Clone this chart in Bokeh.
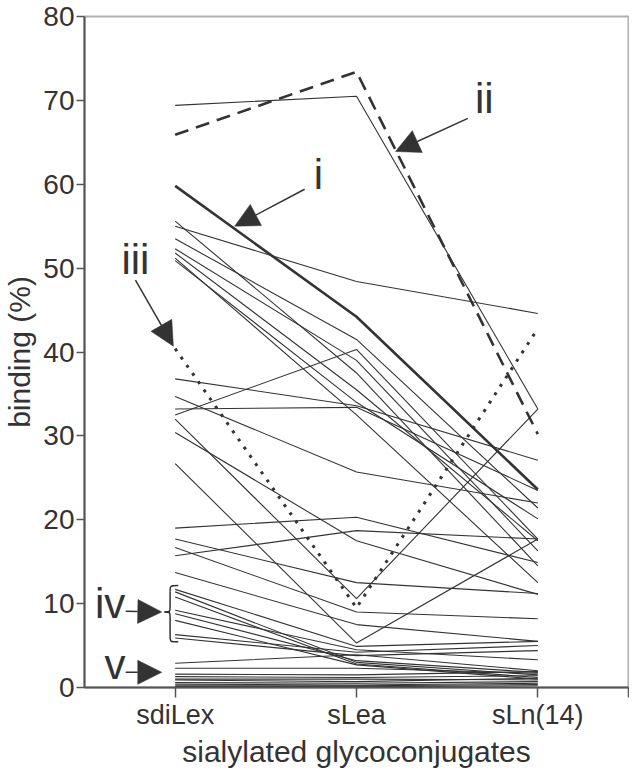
from bokeh.plotting import figure
from bokeh.models import Range1d, FixedTicker, Arrow, NormalHead, Label
from bokeh.embed import file_html
from bokeh.resources import INLINE

# ---------------- data ----------------
categories = ["sdiLex", "sLea", "sLn(14)"]
x_pos = [0, 1, 2]

# thin lines: binding (%) for each glycoconjugate
sdiLex = [69.4, 55.0, 55.6, 53.5, 52.3, 51.8, 51.2, 50.9, 36.8, 33.2, 32.5, 32.0,
          34.7, 30.4, 26.7, 19.0, 15.7, 17.7, 16.7, 13.7,
          11.7, 11.4, 10.8, 9.2, 8.8, 8.0, 6.3, 5.9,
          2.9, 2.3, 1.6, 1.3, 1.0, 0.9, 0.6, 0.4, 0.2, 0.1]
sLea = [70.5, 48.4, 37.5, 41.5, 39.0, 35.5, 32.5, 34.0, 33.6, 33.4, 40.3, 10.6,
        25.7, 17.5, 5.3, 20.3, 18.7, 12.5, 9.0, 7.5,
        4.9, 3.0, 2.8, 4.5, 3.2, 2.7, 4.2, 3.8,
        3.9, 2.3, 1.5, 1.2, 1.0, 0.7, 0.5, 0.3, 0.2, 0.1]
sLn = [33.2, 44.6, 14.5, 21.4, 16.3, 17.5, 12.5, 20.1, 27.1, 23.5, 17.7, 33.2,
       22.0, 11.1, 17.7, 14.9, 17.7, 11.2, 8.2, 5.5,
       5.5, 1.5, 1.2, 3.3, 1.8, 1.0, 5.0, 4.4,
       2.0, 1.7, 1.9, 1.4, 0.9, 1.1, 0.7, 0.5, 0.35, 0.2]

# highlighted sera
line_i = [59.8, 44.2, 23.6]     # thick
line_ii = [65.9, 73.4, 30.2]    # dashed
line_iii = [40.4, 9.5, 42.8]    # dotted

y_ticks = [0, 10, 20, 30, 40, 50, 60, 70, 80]

# annotation layout (data coordinates): label, text x, text y, arrow x0, y0, x1, y1
ann_labels = ["i", "ii", "iii", "iv", "v"]
ann_tx = [0.79, 1.705, -0.219, -0.359, -0.332]
ann_ty = [61.2, 70.2, 51.0, 10.0, 2.7]
arr_x0 = [0.714, 1.614, -0.219, -0.273, -0.273]
arr_y0 = [59.4, 67.85, 48.56, 9.09, 1.81]
arr_x1 = [0.328, 1.215, -0.010, -0.074, -0.074]
arr_y1 = [55.0, 63.9, 40.7, 9.01, 1.81]
brace_group = sdiLex[20:28]

INK = "#333333"
FONT = "Liberation Sans"

p = figure(width=629, height=770, output_backend="svg", toolbar_location=None,
           x_range=Range1d(-0.5, 2.5), y_range=Range1d(0, 80),
           min_border_left=77, min_border_right=1, min_border_top=16,
           min_border_bottom=80)
p.grid.visible = False
p.background_fill_color = "white"
p.border_fill_color = "white"
p.outline_line_color = "#b0b0b0"
p.outline_line_width = 2

# lines
n = len(sdiLex)
xs = [x_pos] * n
ys = [[a, b, c] for a, b, c in zip(sdiLex, sLea, sLn)]
p.multi_line(xs, ys, line_color=INK, line_width=1.1)
p.line(x_pos, line_i, line_color=INK, line_width=2.6)
p.line(x_pos, line_ii, line_color=INK, line_width=2.6, line_dash="14 8")
p.line(x_pos, line_iii, line_color=INK, line_width=3, line_dash="3 7")

# annotations
for lab, tx, ty, x0, y0, x1, y1 in zip(ann_labels, ann_tx, ann_ty, arr_x0, arr_y0, arr_x1, arr_y1):
    p.add_layout(Label(x=tx, y=ty, text=lab, text_align="center", text_baseline="alphabetic",
                       text_font=FONT, text_font_size="42px", text_color=INK))
    p.add_layout(Arrow(x_start=x0, y_start=y0, x_end=x1, y_end=y1,
                       line_color=INK, line_width=1.5,
                       end=NormalHead(size=24, fill_color=INK, line_color=INK, line_width=0.5)))

# brace around group iv
top = max(brace_group) + 0.45
bot = min(brace_group) - 0.45
mid = 9.0
xr, xs_, xp = 0.017, -0.028, -0.059
p.bezier(x0=[xr, xs_, xp, xs_], y0=[top, mid + 0.6, mid, bot + 0.7],
         x1=[xs_, xp, xs_, xr], y1=[top - 0.7, mid, mid - 0.6, bot],
         cx0=[xs_, xs_, xs_, xs_], cy0=[top, mid, mid, bot],
         cx1=[xs_, xs_, xs_, xs_], cy1=[top, mid, mid, bot],
         line_color=INK, line_width=1.5)
p.segment(x0=[xs_, xs_], y0=[top - 0.7, mid - 0.6], x1=[xs_, xs_], y1=[mid + 0.6, bot + 0.7],
          line_color=INK, line_width=1.5)

# axes
p.xaxis.ticker = FixedTicker(ticks=[0, 1, 2, 2.5])
p.xaxis.major_label_overrides = {0: categories[0], 1: categories[1], 2: categories[2], 2.5: ""}
p.yaxis.ticker = FixedTicker(ticks=y_ticks)
p.xaxis.minor_tick_line_color = None
p.yaxis.minor_tick_line_color = None
for ax in (p.xaxis, p.yaxis):
    ax.axis_line_color = "#555555"
    ax.axis_line_width = 2
    ax.major_tick_line_color = "#555555"
    ax.major_tick_line_width = 1.5
    ax.major_tick_in = 0
    ax.major_label_text_font = FONT
    ax.major_label_text_color = INK
    ax.axis_label_text_font = FONT
    ax.axis_label_text_color = INK
    ax.axis_label_text_font_style = "normal"
    ax.axis_label_text_font_size = "30px"
p.xaxis.major_tick_out = 10
p.yaxis.major_tick_out = 8
p.xaxis.major_label_text_font_size = "27px"
p.yaxis.major_label_text_font_size = "28px"
p.xaxis.major_label_standoff = 2
p.yaxis.major_label_standoff = 2
p.xaxis.axis_label_standoff = 2
p.yaxis.axis_label_standoff = 4
p.xaxis.axis_label = "sialylated glycoconjugates"
p.yaxis.axis_label = "binding (%)"

open("out.html", "w").write(file_html(p, INLINE))
